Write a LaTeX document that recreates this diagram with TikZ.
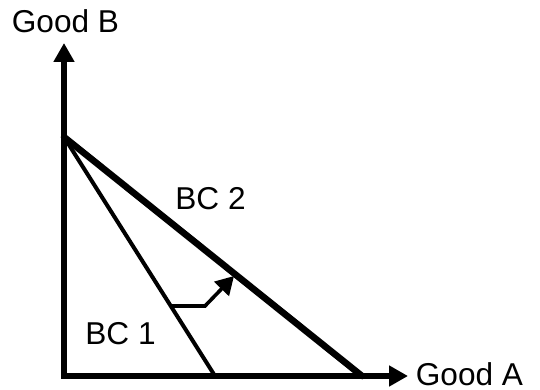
\documentclass[tikz,border=0pt]{standalone}
\usepackage{fontspec}
\setmainfont{Liberation Sans}
\usetikzlibrary{arrows.meta}
\begin{document}
\begin{tikzpicture}[x=0.5pt,y=-0.5pt,
  lbl/.style={inner sep=0pt,anchor=base west,font=\fontsize{15.8}{18}\selectfont},
  axis/.style={line width=2.6pt,line join=miter,{Triangle[length=9.5pt,width=10pt]}-{Triangle[length=9.5pt,width=10pt]}},
  bcthick/.style={line width=3.3pt,line cap=round},
  bcthin/.style={line width=2pt},
  movearrow/.style={line width=1.8pt,line join=miter,-{Triangle[length=9pt,width=10pt]}}]
\useasboundingbox (0,0) rectangle (540,390);
\coordinate (O) at (64,376);
\coordinate (Ytip) at (64,43);
\coordinate (Xtip) at (408,376);
\coordinate (A) at (64,137);
\coordinate (B1) at (215,376);
\coordinate (B2) at (362,376);
\coordinate (P) at (172,306);
\coordinate (Q) at (205,306);
\coordinate (R) at (234,276);
\draw[axis] (Ytip) -- (O) -- (Xtip);
\draw[bcthin] (A) -- (B1);
\draw[bcthick] (A) -- (B2);
\draw[movearrow] (P) -- (Q) -- (R);
\node[lbl] (gb) at (11.5,33) {Good B};
\node[lbl] (ga) at (415.5,385) {Good A};
\node[lbl] (bc2) at (175,209) {BC 2};
\node[lbl] (bc1) at (85,344) {BC 1};
\end{tikzpicture}
\end{document}
